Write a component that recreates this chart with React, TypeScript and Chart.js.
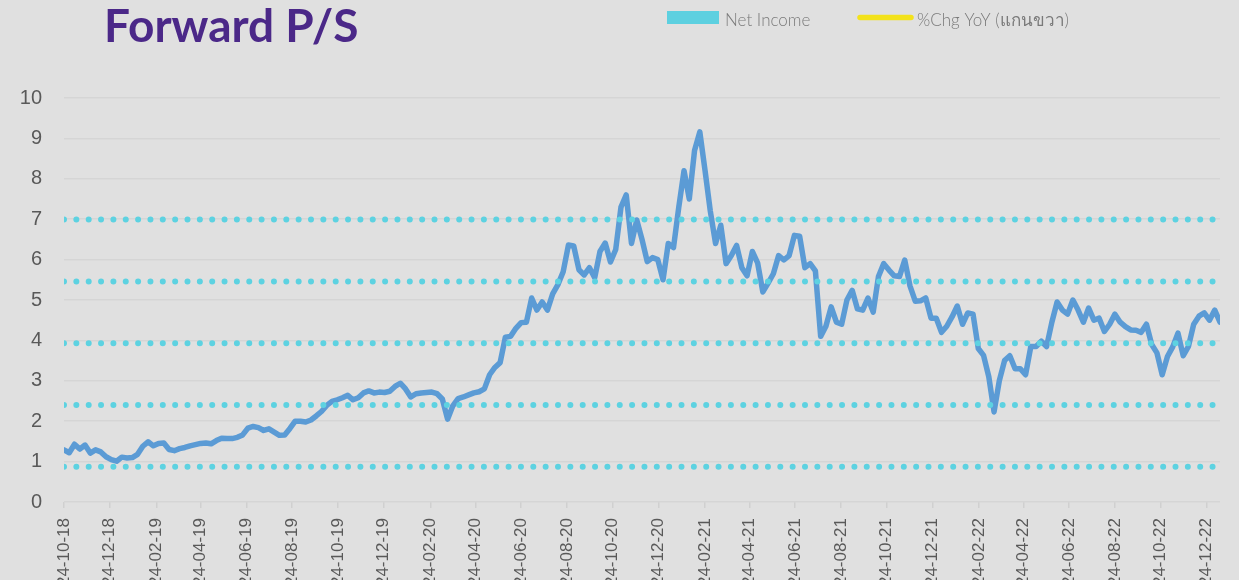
import React, { useEffect, useRef } from "react";
import { Chart, registerables } from "chart.js";

Chart.register(...registerables);

const startLabel = "24-10-18";
const stepDays = 7;

const tickLabels = [
  "24-10-18", "24-12-18", "24-02-19", "24-04-19", "24-06-19", "24-08-19",
  "24-10-19", "24-12-19", "24-02-20", "24-04-20", "24-06-20", "24-08-20",
  "24-10-20", "24-12-20", "24-02-21", "24-04-21", "24-06-21", "24-08-21",
  "24-10-21", "24-12-21", "24-02-22", "24-04-22", "24-06-22", "24-08-22",
  "24-10-22", "24-12-22",
];

const psValues = [
  1.29, 1.22, 1.43, 1.31, 1.41, 1.21, 1.29, 1.24, 1.12, 1.05,
  1.01, 1.11, 1.09, 1.10, 1.18, 1.38, 1.49, 1.39, 1.45, 1.46,
  1.30, 1.27, 1.32, 1.35, 1.39, 1.42, 1.45, 1.46, 1.44, 1.52,
  1.58, 1.57, 1.57, 1.60, 1.66, 1.83, 1.87, 1.84, 1.77, 1.81,
  1.73, 1.65, 1.66, 1.82, 2.00, 2.00, 1.98, 2.03, 2.13, 2.24,
  2.39, 2.49, 2.53, 2.58, 2.64, 2.53, 2.58, 2.70, 2.75, 2.70,
  2.72, 2.71, 2.74, 2.86, 2.94, 2.80, 2.60, 2.68, 2.70, 2.71,
  2.72, 2.68, 2.55, 2.05, 2.38, 2.56, 2.60, 2.65, 2.70, 2.73,
  2.80, 3.15, 3.33, 3.45, 4.08, 4.10, 4.30, 4.44, 4.45, 5.05,
  4.75, 4.95, 4.75, 5.15, 5.38, 5.70, 6.36, 6.34, 5.75, 5.62,
  5.80, 5.55, 6.20, 6.41, 5.94, 6.25, 7.30, 7.60, 6.40, 6.98,
  6.50, 5.95, 6.05, 6.00, 5.50, 6.40, 6.30, 7.30, 8.20, 7.50,
  8.70, 9.16, 8.20, 7.20, 6.40, 6.85, 5.90, 6.10, 6.35, 5.80,
  5.60, 6.20, 5.92, 5.20, 5.42, 5.65, 6.10, 5.99, 6.10, 6.60,
  6.58, 5.80, 5.90, 5.72, 4.10, 4.35, 4.83, 4.45, 4.40, 5.00,
  5.24, 4.78, 4.75, 5.05, 4.70, 5.58, 5.90, 5.74, 5.60, 5.58,
  5.99, 5.35, 4.97, 4.98, 5.05, 4.55, 4.55, 4.20, 4.35, 4.58,
  4.85, 4.40, 4.68, 4.65, 3.80, 3.63, 3.10, 2.23, 3.00, 3.50,
  3.62, 3.30, 3.30, 3.15, 3.85, 3.85, 3.98, 3.85, 4.45, 4.95,
  4.75, 4.65, 5.00, 4.75, 4.45, 4.80, 4.50, 4.55, 4.22, 4.40,
  4.65, 4.45, 4.34, 4.26, 4.25, 4.20, 4.40, 3.90, 3.69, 3.15,
  3.60, 3.84, 4.18, 3.62, 3.85, 4.40, 4.60, 4.68, 4.50, 4.75,
  4.45,
];

// mean and ±1, ±2 standard deviation bands
const bandLevels = [0.87, 2.40, 3.93, 5.46, 6.99];

const yTicks = [0, 1, 2, 3, 4, 5, 6, 7, 8, 9, 10];

const titleText = "Forward P/S";
const legendLabels = ["Net Income", "%Chg YoY (แกนขวา)"];

const BG = "#e0e0e0";

function parseDay(label: string): number {
  const [dd, mm, yy] = label.split("-").map((s) => parseInt(s, 10));
  return Date.UTC(2000 + yy, mm - 1, dd) / 86400000;
}

export default function App() {
  const canvasRef = useRef<HTMLCanvasElement | null>(null);

  useEffect(() => {
    document.body.style.margin = "0";
    document.body.style.background = BG;
    const canvas = canvasRef.current;
    if (!canvas) return;

    const start = parseDay(startLabel);
    const tickDays = tickLabels.map((l) => parseDay(l) - start);
    const xMax = (psValues.length - 1) * stepDays;

    const lineData = psValues.map((v, i) => ({ x: i * stepDays, y: v }));

    const bandDatasets = bandLevels.map((lvl) => ({
      label: "band " + lvl,
      data: [
        { x: 0, y: lvl },
        { x: xMax, y: lvl },
      ],
      borderColor: "#5dd2e1",
      borderWidth: 6,
      borderDash: [0, 12.35],
      borderCapStyle: "round" as const,
      pointRadius: 0,
      fill: false,
      order: 1,
    }));

    const overlayPlugin = {
      id: "overlayText",
      afterDraw(chart: any) {
        const ctx = chart.ctx as CanvasRenderingContext2D;
        ctx.save();
        // Title
        ctx.fillStyle = "#4b2888";
        ctx.font = "bold 46px Lato, 'Noto Sans', sans-serif";
        ctx.textBaseline = "alphabetic";
        ctx.textAlign = "left";
        ctx.fillText(titleText, 104, 42);

        // Legend
        ctx.fillStyle = "#5dd0e0";
        ctx.fillRect(667, 11, 52, 13);
        ctx.strokeStyle = "#f3e21b";
        ctx.lineWidth = 5.5;
        ctx.lineCap = "round";
        ctx.beginPath();
        ctx.moveTo(860, 17.5);
        ctx.lineTo(911, 17.5);
        ctx.stroke();

        ctx.fillStyle = "#7a7a7a";
        ctx.font = "300 17px Lato, 'Noto Sans', 'DejaVu Sans', sans-serif";
        ctx.fillText(legendLabels[0], 725, 26);
        ctx.fillText(legendLabels[1], 917, 26);
        ctx.restore();
      },
    };

    const chart = new Chart(canvas, {
      type: "line",
      data: {
        datasets: [
          ...bandDatasets,
          {
            label: "Forward P/S",
            data: lineData,
            borderColor: "#5b9bd5",
            borderWidth: 5.5,
            borderJoinStyle: "round",
            borderCapStyle: "round",
            pointRadius: 0,
            tension: 0,
            fill: false,
            order: 2,
          },
        ] as any,
      },
      options: {
        animation: false,
        responsive: false,
        devicePixelRatio: 1,
        layout: { padding: { left: 0, right: 19, top: 98, bottom: 0 } },
        plugins: {
          legend: { display: false },
          tooltip: { enabled: false },
          title: { display: false },
        },
        scales: {
          x: {
            type: "linear",
            min: 0,
            max: xMax,
            afterBuildTicks: (scale: any) => {
              scale.ticks = tickDays.map((d) => ({ value: d }));
            },
            afterFit: (scale: any) => {
              scale.height = 108;
            },
            ticks: {
              autoSkip: false,
              minRotation: 90,
              maxRotation: 90,
              padding: 10,
              color: "#595959",
              font: { family: "'Liberation Sans', Arial, sans-serif", size: 17 },
              callback: (_v: any, i: number) => tickLabels[i],
            },
            grid: {
              drawOnChartArea: false,
              drawTicks: true,
              tickLength: 6,
              color: "#d0d0d0",
              lineWidth: 1.5,
            },
            border: { display: false },
          },
          y: {
            type: "linear",
            min: 0,
            max: 10,
            afterBuildTicks: (scale: any) => {
              scale.ticks = yTicks.map((v) => ({ value: v }));
            },
            afterFit: (scale: any) => {
              scale.width = 64;
            },
            ticks: {
              padding: 22,
              color: "#595959",
              font: { family: "'Liberation Sans', Arial, sans-serif", size: 20 },
              callback: (v: any) => String(v),
            },
            grid: {
              drawTicks: false,
              color: "#d5d5d5",
              lineWidth: 1.5,
            },
            border: { display: false },
          },
        },
      },
      plugins: [overlayPlugin],
    });

    return () => {
      chart.destroy();
    };
  }, []);

  return (
    <div
      style={{
        width: 1239,
        height: 580,
        overflow: "hidden",
        background: BG,
        position: "relative",
      }}
    >
      <canvas
        ref={canvasRef}
        width={1239}
        height={610}
        style={{ display: "block", width: 1239, height: 610 }}
      />
    </div>
  );
}
